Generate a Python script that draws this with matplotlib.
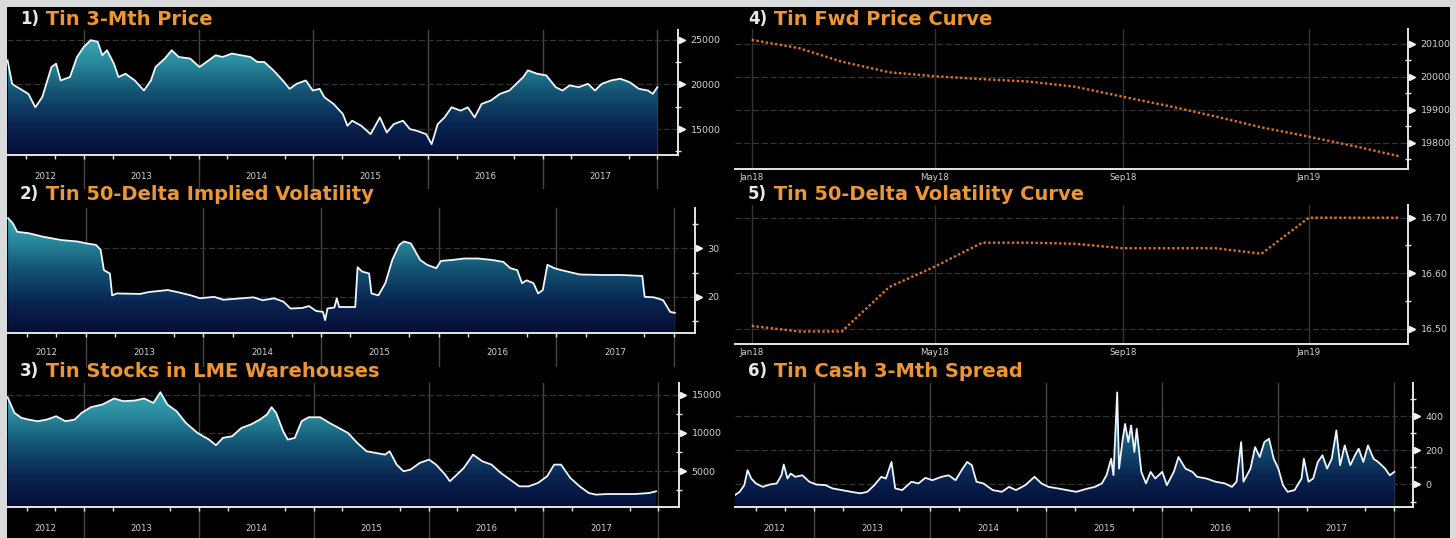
import numpy as np
import pandas as pd
import matplotlib
matplotlib.use("Agg")
import matplotlib.pyplot as plt
import matplotlib.dates as mdates
import matplotlib.ticker as ticker
from matplotlib.colors import LinearSegmentedColormap
from matplotlib.patches import PathPatch, Rectangle
from matplotlib.text import Annotation

# Data (time as decimal years)

price_t = [2012.335, 2012.375, 2012.395, 2012.516, 2012.577, 2012.637, 2012.718, 2012.758, 2012.798, 2012.879,
           2012.940, 2013.000, 2013.060, 2013.121, 2013.161, 2013.202, 2013.262, 2013.302, 2013.363, 2013.444,
           2013.524, 2013.585, 2013.625, 2013.706, 2013.766, 2013.827, 2013.927, 2014.008, 2014.069, 2014.149,
           2014.210, 2014.290, 2014.371, 2014.452, 2014.512, 2014.573, 2014.653, 2014.734, 2014.794, 2014.855,
           2014.935, 2014.996, 2015.056, 2015.097, 2015.177, 2015.258, 2015.298, 2015.339, 2015.419, 2015.500,
           2015.581, 2015.641, 2015.702, 2015.782, 2015.843, 2015.903, 2015.984, 2016.032, 2016.085, 2016.145,
           2016.206, 2016.286, 2016.347, 2016.407, 2016.468, 2016.548, 2016.629, 2016.710, 2016.770, 2016.831,
           2016.871, 2016.952, 2017.032, 2017.113, 2017.173, 2017.234, 2017.315, 2017.395, 2017.456, 2017.516,
           2017.597, 2017.677, 2017.758, 2017.839, 2017.919, 2017.960, 2018.000]
price_v = [22700, 20075, 19890, 18950, 17440, 18570, 21955, 22330, 20450, 20830,
           23080, 24210, 24960, 24775, 23270, 23835, 22330, 20830, 21200, 20450,
           19320, 20450, 21955, 22900, 23835, 23080, 22900, 21955, 22520, 23270,
           23080, 23460, 23270, 23080, 22520, 22520, 21580, 20450, 19510, 20075,
           20450, 19320, 19510, 18570, 17820, 16690, 15375, 15940, 15375, 14435,
           16315, 14620, 15560, 15940, 15000, 14810, 14435, 13310, 15560, 16315,
           17440, 17070, 17440, 16315, 17820, 18200, 18950, 19320, 20075, 20830,
           21580, 21200, 21015, 19700, 19320, 19890, 19700, 20075, 19320, 20075,
           20450, 20640, 20260, 19510, 19320, 18950, 19700]

vol_t = [2012.339, 2012.378, 2012.417, 2012.516, 2012.634, 2012.791, 2012.929,
         2013.008, 2013.087, 2013.126, 2013.154, 2013.205, 2013.224, 2013.264, 2013.461, 2013.539, 2013.697,
         2013.776, 2013.894, 2013.972,
         2014.091, 2014.169, 2014.327, 2014.425, 2014.504, 2014.602, 2014.681, 2014.740, 2014.839, 2014.898,
         2014.957,
         2015.016, 2015.035, 2015.055, 2015.114, 2015.134, 2015.154, 2015.291, 2015.311, 2015.350, 2015.409,
         2015.429, 2015.488, 2015.547, 2015.606, 2015.665, 2015.705, 2015.764, 2015.843, 2015.902, 2015.980,
         2016.020, 2016.118, 2016.217, 2016.335, 2016.453, 2016.551, 2016.610, 2016.669, 2016.709, 2016.748,
         2016.807, 2016.846, 2016.886, 2016.925, 2016.984,
         2017.043, 2017.201, 2017.398, 2017.555, 2017.732, 2017.752, 2017.831, 2017.909, 2017.969, 2018.008]
vol_v = [36.2, 35.2, 33.4, 33.1, 32.4, 31.7, 31.4,
         31.0, 30.7, 29.7, 25.5, 24.8, 20.3, 20.7, 20.6, 21.0, 21.4, 21.0, 20.3, 19.7,
         20.0, 19.4, 19.7, 19.9, 19.3, 19.7, 19.0, 17.6, 17.7, 18.1, 17.1,
         16.9, 15.2, 17.6, 17.8, 19.7, 17.9, 17.9, 26.1, 25.2, 24.8, 20.7, 20.3, 22.8, 27.6, 30.7, 31.4,
         31.0, 27.6, 26.6, 25.9,
         27.4, 27.6, 27.9, 27.9, 27.6, 27.2, 25.9, 25.5, 22.8, 23.4, 22.8, 20.7, 21.4, 26.6, 25.9,
         25.5, 24.6, 24.5, 24.5, 24.3, 20.0, 19.9, 19.3, 16.9, 16.7]

stock_t = [2012.335, 2012.395, 2012.456, 2012.516, 2012.597, 2012.677, 2012.758, 2012.839, 2012.919, 2012.980,
           2013.060, 2013.161, 2013.262, 2013.343, 2013.444, 2013.524, 2013.605, 2013.665, 2013.726, 2013.806,
           2013.887, 2013.988,
           2014.089, 2014.149, 2014.210, 2014.290, 2014.371, 2014.452, 2014.532, 2014.593, 2014.633, 2014.673,
           2014.734, 2014.774, 2014.835, 2014.895, 2014.956,
           2015.056, 2015.137, 2015.218, 2015.298, 2015.379, 2015.460, 2015.540, 2015.621, 2015.661, 2015.722,
           2015.782, 2015.843, 2015.923,
           2016.004, 2016.065, 2016.145, 2016.185, 2016.246, 2016.306, 2016.387, 2016.468, 2016.548, 2016.629,
           2016.710, 2016.790, 2016.871, 2016.952,
           2017.032, 2017.093, 2017.153, 2017.234, 2017.315, 2017.395, 2017.456, 2017.556, 2017.677, 2017.798,
           2017.919, 2017.980]
stock_v = [14650, 12610, 11960, 11740, 11520, 11740, 12170, 11520, 11740, 12610,
           13350, 13700, 14480, 14130, 14220, 14480, 13910, 15300, 13700, 12830, 11300, 10000,
           9130, 8390, 9350, 9570, 10650, 11090, 11740, 12390, 13350, 12610, 10220, 9130, 9350, 11520, 12040,
           12040, 11300, 10650, 10000, 8700, 7610, 7390, 7170, 7610, 5870, 5000, 5220, 6090,
           6520, 5870, 4560, 3700, 4560, 5430, 7170, 6300, 5870, 4780, 3910, 3040, 3040, 3480,
           4350, 5870, 5870, 4130, 3040, 2170, 1960, 2040, 2040, 2040, 2170, 2390]

spread_t = [2012.32, 2012.36, 2012.40, 2012.428, 2012.46, 2012.50, 2012.56, 2012.62, 2012.68, 2012.72,
            2012.74, 2012.772, 2012.80, 2012.84, 2012.90, 2012.96,
            2013.02, 2013.10, 2013.16, 2013.24, 2013.32, 2013.40, 2013.46, 2013.52, 2013.58, 2013.62,
            2013.668, 2013.70, 2013.76, 2013.84, 2013.90, 2013.96,
            2014.02, 2014.10, 2014.16, 2014.22, 2014.28, 2014.32, 2014.36, 2014.40, 2014.46, 2014.54,
            2014.62, 2014.68, 2014.74, 2014.82, 2014.90, 2014.96,
            2015.02, 2015.10, 2015.18, 2015.26, 2015.34, 2015.42, 2015.48, 2015.52, 2015.56, 2015.58,
            2015.612, 2015.628, 2015.66, 2015.68, 2015.708, 2015.732, 2015.76, 2015.78, 2015.82, 2015.86,
            2015.90, 2015.94,
            2016.00, 2016.04, 2016.10, 2016.14, 2016.20, 2016.26, 2016.30, 2016.38, 2016.46, 2016.54,
            2016.60, 2016.64, 2016.68, 2016.70, 2016.76, 2016.80, 2016.84, 2016.88, 2016.92, 2016.96,
            2017.00, 2017.04, 2017.08, 2017.14, 2017.20, 2017.22, 2017.26, 2017.30, 2017.34, 2017.38,
            2017.42, 2017.46, 2017.50, 2017.532, 2017.572, 2017.62, 2017.66, 2017.692, 2017.732, 2017.772,
            2017.82, 2017.86, 2017.92, 2017.96, 2018.00]
spread_v = [-62, -43, -4, 84, 35, 6, -14, 0, 6, 54, 117, 35, 64, 45, 54, 16,
            0, -4, -23, -33, -43, -52, -43, -4, 45, 35, 132, -23, -33, 16, 6, 39,
            25, 45, 54, 25, 93, 132, 113, 16, 6, -33, -43, -14, -33, -4, 45, 6,
            -14, -23, -33, -43, -27, -14, 6, 54, 151, 54, 540, 93, 268, 355, 249, 346, 190, 326, 74, 6,
            74, 35,
            74, -4, 74, 161, 93, 74, 45, 35, 16, 6, -14, 16, 249, 16, 93, 219, 161, 249, 268, 151,
            93, -4, -43, -33, 35, 151, 16, 35, 132, 171, 93, 151, 317, 113, 229, 113, 171, 210, 132, 229,
            151, 132, 93, 54, 74]

year_labels = ["2012", "2013", "2014", "2015", "2016", "2017"]

curve_months = ["2018-01", "2018-02", "2018-03", "2018-04", "2018-05", "2018-06", "2018-07", "2018-08",
                "2018-09", "2018-10", "2018-11", "2018-12", "2019-01", "2019-02", "2019-03"]
fwd_price = [20112, 20087, 20046, 20014, 20002, 19993, 19986, 19970, 19940, 19912, 19880, 19847, 19819,
             19789, 19760]
vol_curve = [16.505, 16.495, 16.495, 16.575, 16.612, 16.655, 16.655, 16.653, 16.645, 16.645, 16.645,
             16.635, 16.700, 16.700, 16.700]

# Look

W, H = 1456, 538
ORANGE = "#ec9634"
CURVE = "#de7424"
AXIS = "#e6e6e6"
LABEL = "#d2d2d2"
GRID = "#333333"
SEP = "#454545"
grad_cmap = LinearSegmentedColormap.from_list(
    "bbg", ["#050d36", "#0a2552", "#135272", "#2a8c9e", "#45b0bd"])

plt.rcParams["font.family"] = ["DejaVu Sans"]


def px_axes(fig, left, top, right, bottom):
    return fig.add_axes([left / W, 1 - bottom / H, (right - left) / W, (bottom - top) / H])


def style_y(ax, ylim, major, minor, fmt):
    ax.set_facecolor("black")
    ax.set_ylim(*ylim)
    ax.spines[["top", "left"]].set_visible(False)
    for s in ("bottom", "right"):
        ax.spines[s].set_color(AXIS)
        ax.spines[s].set_linewidth(1.4)
    ax.yaxis.tick_right()
    ax.yaxis.set_major_locator(ticker.MultipleLocator(major))
    ax.yaxis.set_minor_locator(ticker.MultipleLocator(minor))
    ax.yaxis.set_major_formatter(ticker.FormatStrFormatter(fmt))
    ax.tick_params(axis="y", which="major", length=0, pad=9, labelsize=6.8, labelcolor=LABEL)
    ax.tick_params(axis="y", which="minor", length=4, width=1, direction="inout", color=AXIS)
    ax.grid(axis="y", which="major", color=GRID, lw=0.9, ls=(0, (5, 2)))
    ax.set_axisbelow(True)
    ticks = [t for t in ax.yaxis.get_majorticklocs() if ylim[0] <= t <= ylim[1]]
    ax.plot([1.006] * len(ticks), ticks, marker=">", ls="none", ms=5, color="#f2f2f2",
            transform=ax.get_yaxis_transform(), clip_on=False, zorder=6)


def gradient_area(ax, x, y, ylim):
    poly = ax.fill_between(x, y, ylim[0], facecolor="none", edgecolor="none")
    clip = PathPatch(poly.get_paths()[0], transform=ax.transData, facecolor="none", edgecolor="none")
    ax.add_patch(clip)
    img = ax.imshow(np.linspace(0, 1, 256).reshape(-1, 1), cmap=grad_cmap, aspect="auto",
                    origin="lower", extent=[x[0], x[-1], ylim[0], ylim[1]], zorder=1)
    img.set_clip_path(clip)
    ax.plot(x, y, color="#eef6ff", lw=1.3, zorder=3)


def year_axis(ax, xlim, pad):
    ax.set_xlim(*xlim)
    mids = [(max(int(y), xlim[0]) + min(int(y) + 1, 2018)) / 2 for y in year_labels]
    ax.set_xticks(mids, labels=year_labels)
    ax.xaxis.set_minor_locator(ticker.MultipleLocator(0.25))
    ax.tick_params(axis="x", which="major", length=0, pad=pad, labelsize=6.2, labelcolor=LABEL)
    ax.tick_params(axis="x", which="minor", length=3, width=1, color=AXIS)
    for yr in range(2013, 2019):
        ax.axvline(yr, ymin=-0.26, ymax=1, color=SEP, lw=1, clip_on=False, zorder=0.5)


def curve_axis(ax):
    ax.set_xlim(pd.Timestamp("2017-12-21"), pd.Timestamp("2019-03-07"))
    ax.xaxis.set_major_locator(mdates.MonthLocator(bymonth=[1, 5, 9]))
    ax.xaxis.set_major_formatter(mdates.DateFormatter("%b%y"))
    ax.tick_params(axis="x", which="major", length=0, pad=3, labelsize=6.2, labelcolor=LABEL)
    ax.grid(axis="x", which="major", color=GRID, lw=1)


def panel_title(fig, x, y, num, text):
    t = fig.text(x / W, 1 - y / H, num, color="#e9e9e9", fontsize=12, fontweight="bold",
                 va="center", ha="left")
    fig.add_artist(Annotation(" " + text, xy=(1, 0.45), xycoords=t, va="center", ha="left",
                              color=ORANGE, fontsize=14, fontweight="bold"))


fig = plt.figure(figsize=(W / 100, H / 100), dpi=100, facecolor="black")

# left column: history
xlim_hist = (2012.33, 2018.18)

ax1 = px_axes(fig, 7, 30, 678, 155)
gradient_area(ax1, price_t, price_v, (12100, 26100))
style_y(ax1, (12100, 26100), 5000, 2500, "%d")
year_axis(ax1, xlim_hist, 12)

ax2 = px_axes(fig, 7, 208, 695, 333)
gradient_area(ax2, vol_t, vol_v, (12.55, 38.3))
style_y(ax2, (12.55, 38.3), 10, 5, "%d")
year_axis(ax2, xlim_hist, 11)

ax3 = px_axes(fig, 7, 383, 679, 507)
gradient_area(ax3, stock_t, stock_v, (350, 16500))
style_y(ax3, (350, 16500), 5000, 2500, "%d")
year_axis(ax3, xlim_hist, 12)

# right column: curves + spread
months = pd.to_datetime(curve_months)

ax4 = px_axes(fig, 735, 29, 1408, 169)
ax4.plot(months, fwd_price, color=CURVE, lw=1.7, ls=(0, (1, 1)))
style_y(ax4, (19721, 20145), 100, 50, "%d")
curve_axis(ax4)

ax5 = px_axes(fig, 735, 205, 1408, 344)
ax5.plot(months, vol_curve, color=CURVE, lw=1.7, ls=(0, (1, 1)))
style_y(ax5, (16.4724, 16.7229), 0.1, 0.05, "%.2f")
curve_axis(ax5)

ax6 = px_axes(fig, 735, 383, 1413, 507)
gradient_area(ax6, spread_t, spread_v, (-132, 595))
style_y(ax6, (-132, 595), 200, 100, "%d")
year_axis(ax6, (2012.32, 2018.16), 12)

panel_title(fig, 20, 19, "1)", "Tin 3-Mth Price")
panel_title(fig, 20, 194, "2)", "Tin 50-Delta Implied Volatility")
panel_title(fig, 20, 371, "3)", "Tin Stocks in LME Warehouses")
panel_title(fig, 748, 19, "4)", "Tin Fwd Price Curve")
panel_title(fig, 748, 194, "5)", "Tin 50-Delta Volatility Curve")
panel_title(fig, 748, 371, "6)", "Tin Cash 3-Mth Spread")

# light screen frame
for x0, y0, w, h in [(0, 0, 7, H), (0, H - 7, W, 7), (1450, 0, 6, H)]:
    fig.add_artist(Rectangle((x0 / W, y0 / H), w / W, h / H, transform=fig.transFigure,
                             facecolor="#d8dadc", edgecolor="none", zorder=10))

fig.savefig("out.png", dpi=100, facecolor="black")
